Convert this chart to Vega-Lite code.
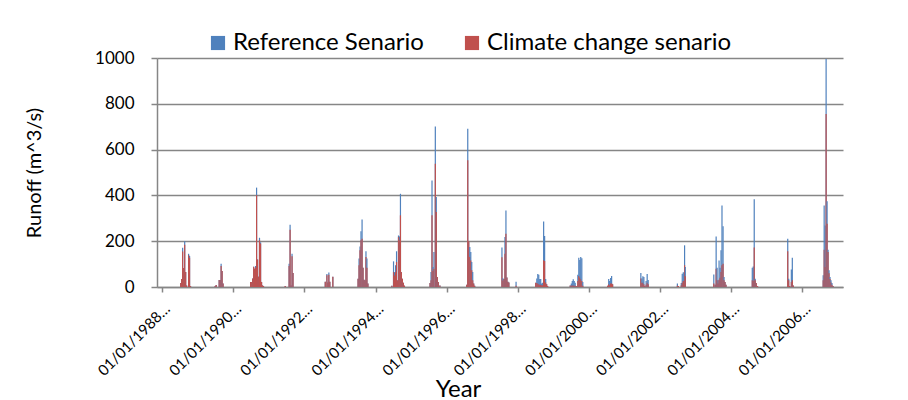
{
  "$schema": "https://vega.github.io/schema/vega-lite/v6.json",
  "width": 686,
  "height": 229,
  "autosize": {"type": "none"},
  "padding": {"left": 157, "top": 58, "right": 65, "bottom": 113},
  "background": "white",
  "config": {
    "font": "Lato",
    "view": {"stroke": null},
    "axis": {"labelColor": "#000000", "titleColor": "#000000", "titleFontWeight": "normal", "domainColor": "#868686", "domainWidth": 1.5, "tickColor": "#868686", "tickWidth": 1.5}
  },
  "data": {"values": [
    {"date": "1988-07-11", "ref": 17, "cc": 17},
    {"date": "1988-07-21", "ref": 35, "cc": 35},
    {"date": "1988-07-31", "ref": 171, "cc": 155},
    {"date": "1988-08-11", "ref": 83, "cc": 83},
    {"date": "1988-08-21", "ref": 200, "cc": 185},
    {"date": "1988-08-31", "ref": 66, "cc": 66},
    {"date": "1988-09-10", "ref": 7, "cc": 7},
    {"date": "1988-09-30", "ref": 145, "cc": 139},
    {"date": "1988-10-10", "ref": 136, "cc": 128},
    {"date": "1988-10-20", "ref": 4, "cc": 4},
    {"date": "1989-06-30", "ref": 4, "cc": 4},
    {"date": "1989-07-10", "ref": 9, "cc": 9},
    {"date": "1989-08-10", "ref": 31, "cc": 31},
    {"date": "1989-08-20", "ref": 31, "cc": 31},
    {"date": "1989-08-30", "ref": 101, "cc": 92},
    {"date": "1989-09-09", "ref": 70, "cc": 70},
    {"date": "1989-09-19", "ref": 15, "cc": 15},
    {"date": "1990-06-29", "ref": 22, "cc": 22},
    {"date": "1990-07-10", "ref": 22, "cc": 22},
    {"date": "1990-07-20", "ref": 37, "cc": 37},
    {"date": "1990-07-30", "ref": 88, "cc": 88},
    {"date": "1990-08-09", "ref": 80, "cc": 80},
    {"date": "1990-08-19", "ref": 92, "cc": 85},
    {"date": "1990-08-29", "ref": 434, "cc": 401},
    {"date": "1990-09-08", "ref": 120, "cc": 120},
    {"date": "1990-09-18", "ref": 45, "cc": 45},
    {"date": "1990-09-28", "ref": 215, "cc": 204},
    {"date": "1990-10-09", "ref": 195, "cc": 190},
    {"date": "1990-10-19", "ref": 22, "cc": 22},
    {"date": "1990-10-29", "ref": 7, "cc": 7},
    {"date": "1990-11-08", "ref": 4, "cc": 4},
    {"date": "1991-06-19", "ref": 4, "cc": 4},
    {"date": "1991-07-29", "ref": 101, "cc": 92},
    {"date": "1991-08-08", "ref": 272, "cc": 250},
    {"date": "1991-08-18", "ref": 7, "cc": 7},
    {"date": "1991-08-28", "ref": 145, "cc": 134},
    {"date": "1991-09-07", "ref": 61, "cc": 61},
    {"date": "1992-08-03", "ref": 23, "cc": 23},
    {"date": "1992-08-20", "ref": 57, "cc": 51},
    {"date": "1992-08-30", "ref": 20, "cc": 20},
    {"date": "1992-09-09", "ref": 63, "cc": 54},
    {"date": "1992-09-19", "ref": 23, "cc": 23},
    {"date": "1992-10-20", "ref": 45, "cc": 45},
    {"date": "1993-07-06", "ref": 36, "cc": 36},
    {"date": "1993-07-16", "ref": 124, "cc": 95},
    {"date": "1993-07-26", "ref": 177, "cc": 160},
    {"date": "1993-08-05", "ref": 243, "cc": 204},
    {"date": "1993-08-16", "ref": 295, "cc": 211},
    {"date": "1993-08-26", "ref": 84, "cc": 84},
    {"date": "1993-09-05", "ref": 32, "cc": 32},
    {"date": "1993-09-15", "ref": 29, "cc": 29},
    {"date": "1993-09-25", "ref": 156, "cc": 131},
    {"date": "1993-10-05", "ref": 124, "cc": 84},
    {"date": "1993-10-15", "ref": 15, "cc": 15},
    {"date": "1994-06-18", "ref": 6, "cc": 6},
    {"date": "1994-07-05", "ref": 112, "cc": 65},
    {"date": "1994-07-15", "ref": 65, "cc": 50},
    {"date": "1994-07-26", "ref": 95, "cc": 65},
    {"date": "1994-08-05", "ref": 156, "cc": 109},
    {"date": "1994-08-15", "ref": 29, "cc": 29},
    {"date": "1994-08-25", "ref": 225, "cc": 218},
    {"date": "1994-09-04", "ref": 221, "cc": 204},
    {"date": "1994-09-14", "ref": 407, "cc": 313},
    {"date": "1994-09-24", "ref": 65, "cc": 65},
    {"date": "1994-10-04", "ref": 36, "cc": 36},
    {"date": "1994-10-14", "ref": 19, "cc": 19},
    {"date": "1994-10-25", "ref": 6, "cc": 6},
    {"date": "1995-07-15", "ref": 17, "cc": 17},
    {"date": "1995-07-25", "ref": 65, "cc": 29},
    {"date": "1995-08-04", "ref": 465, "cc": 313},
    {"date": "1995-08-14", "ref": 87, "cc": 70},
    {"date": "1995-08-24", "ref": 153, "cc": 80},
    {"date": "1995-09-07", "ref": 701, "cc": 538},
    {"date": "1995-09-17", "ref": 393, "cc": 327},
    {"date": "1995-09-27", "ref": 44, "cc": 44},
    {"date": "1995-10-07", "ref": 22, "cc": 22},
    {"date": "1995-10-24", "ref": 7, "cc": 7},
    {"date": "1996-07-26", "ref": 10, "cc": 10},
    {"date": "1996-08-05", "ref": 691, "cc": 553},
    {"date": "1996-08-15", "ref": 195, "cc": 200},
    {"date": "1996-08-26", "ref": 175, "cc": 131},
    {"date": "1996-09-05", "ref": 153, "cc": 116},
    {"date": "1996-09-15", "ref": 109, "cc": 73},
    {"date": "1996-09-25", "ref": 65, "cc": 29},
    {"date": "1996-10-05", "ref": 15, "cc": 15},
    {"date": "1996-10-15", "ref": 6, "cc": 6},
    {"date": "1997-07-22", "ref": 172, "cc": 130},
    {"date": "1997-08-01", "ref": 38, "cc": 28},
    {"date": "1997-08-12", "ref": 35, "cc": 35},
    {"date": "1997-08-22", "ref": 218, "cc": 145},
    {"date": "1997-09-01", "ref": 334, "cc": 232},
    {"date": "1997-09-11", "ref": 42, "cc": 42},
    {"date": "1997-09-21", "ref": 23, "cc": 23},
    {"date": "1997-10-01", "ref": 20, "cc": 20},
    {"date": "1997-12-14", "ref": 23, "cc": 6},
    {"date": "1998-07-04", "ref": 19, "cc": 19},
    {"date": "1998-07-15", "ref": 37, "cc": 18},
    {"date": "1998-07-25", "ref": 57, "cc": 15},
    {"date": "1998-08-04", "ref": 53, "cc": 12},
    {"date": "1998-08-14", "ref": 35, "cc": 10},
    {"date": "1998-08-24", "ref": 35, "cc": 10},
    {"date": "1998-09-03", "ref": 15, "cc": 8},
    {"date": "1998-09-13", "ref": 19, "cc": 8},
    {"date": "1998-09-23", "ref": 286, "cc": 117},
    {"date": "1998-10-03", "ref": 223, "cc": 114},
    {"date": "1998-10-14", "ref": 35, "cc": 20},
    {"date": "1998-10-24", "ref": 12, "cc": 12},
    {"date": "1998-11-03", "ref": 4, "cc": 4},
    {"date": "1999-06-23", "ref": 7, "cc": 7},
    {"date": "1999-07-04", "ref": 15, "cc": 5},
    {"date": "1999-07-14", "ref": 26, "cc": 7},
    {"date": "1999-07-24", "ref": 34, "cc": 7},
    {"date": "1999-08-03", "ref": 26, "cc": 5},
    {"date": "1999-08-13", "ref": 19, "cc": 5},
    {"date": "1999-08-23", "ref": 4, "cc": 4},
    {"date": "1999-09-09", "ref": 53, "cc": 26},
    {"date": "1999-09-19", "ref": 128, "cc": 48},
    {"date": "1999-09-29", "ref": 118, "cc": 41},
    {"date": "1999-10-09", "ref": 131, "cc": 34},
    {"date": "1999-10-20", "ref": 126, "cc": 26},
    {"date": "1999-10-30", "ref": 22, "cc": 5},
    {"date": "2000-07-12", "ref": 6, "cc": 6},
    {"date": "2000-07-22", "ref": 35, "cc": 12},
    {"date": "2000-08-01", "ref": 26, "cc": 8},
    {"date": "2000-08-11", "ref": 39, "cc": 15},
    {"date": "2000-08-21", "ref": 48, "cc": 15},
    {"date": "2000-08-31", "ref": 12, "cc": 12},
    {"date": "2001-06-17", "ref": 61, "cc": 37},
    {"date": "2001-06-28", "ref": 37, "cc": 19},
    {"date": "2001-07-08", "ref": 47, "cc": 19},
    {"date": "2001-07-18", "ref": 44, "cc": 12},
    {"date": "2001-07-28", "ref": 4, "cc": 4},
    {"date": "2001-08-10", "ref": 26, "cc": 10},
    {"date": "2001-08-21", "ref": 57, "cc": 19},
    {"date": "2001-08-31", "ref": 31, "cc": 12},
    {"date": "2002-06-27", "ref": 15, "cc": 5},
    {"date": "2002-07-07", "ref": 4, "cc": 4},
    {"date": "2002-08-06", "ref": 17, "cc": 8},
    {"date": "2002-08-16", "ref": 58, "cc": 19},
    {"date": "2002-08-27", "ref": 64, "cc": 26},
    {"date": "2002-09-09", "ref": 182, "cc": 95},
    {"date": "2002-09-16", "ref": 87, "cc": 47},
    {"date": "2003-07-06", "ref": 55, "cc": 15},
    {"date": "2003-07-20", "ref": 10, "cc": 10},
    {"date": "2003-07-30", "ref": 221, "cc": 80},
    {"date": "2003-08-09", "ref": 84, "cc": 29},
    {"date": "2003-08-19", "ref": 29, "cc": 15},
    {"date": "2003-08-29", "ref": 116, "cc": 32},
    {"date": "2003-09-08", "ref": 84, "cc": 40},
    {"date": "2003-09-18", "ref": 160, "cc": 65},
    {"date": "2003-09-28", "ref": 356, "cc": 95},
    {"date": "2003-10-09", "ref": 265, "cc": 102},
    {"date": "2003-10-19", "ref": 44, "cc": 30},
    {"date": "2003-10-29", "ref": 22, "cc": 22},
    {"date": "2003-11-08", "ref": 10, "cc": 10},
    {"date": "2004-08-04", "ref": 84, "cc": 29},
    {"date": "2004-08-14", "ref": 90, "cc": 26},
    {"date": "2004-08-24", "ref": 383, "cc": 172},
    {"date": "2004-09-03", "ref": 36, "cc": 30},
    {"date": "2004-09-13", "ref": 17, "cc": 17},
    {"date": "2004-09-27", "ref": 4, "cc": 4},
    {"date": "2005-08-03", "ref": 211, "cc": 156},
    {"date": "2005-08-13", "ref": 36, "cc": 30},
    {"date": "2005-08-23", "ref": 4, "cc": 4},
    {"date": "2005-09-09", "ref": 76, "cc": 22},
    {"date": "2005-09-19", "ref": 128, "cc": 29},
    {"date": "2005-09-29", "ref": 7, "cc": 7},
    {"date": "2006-08-02", "ref": 51, "cc": 30},
    {"date": "2006-08-12", "ref": 356, "cc": 163},
    {"date": "2006-08-22", "ref": 269, "cc": 87},
    {"date": "2006-09-01", "ref": 996, "cc": 756},
    {"date": "2006-09-11", "ref": 375, "cc": 276},
    {"date": "2006-09-21", "ref": 163, "cc": 153},
    {"date": "2006-10-01", "ref": 73, "cc": 60},
    {"date": "2006-10-11", "ref": 44, "cc": 35},
    {"date": "2006-10-21", "ref": 29, "cc": 20},
    {"date": "2006-10-31", "ref": 17, "cc": 10},
    {"date": "2006-11-11", "ref": 4, "cc": 4}
  ]},
  "transform": [{"fold": ["ref", "cc"], "as": ["series", "value"]}],
  "mark": {"type": "bar", "size": 1.2},
  "encoding": {
    "x": {
      "field": "date",
      "type": "temporal",
      "scale": {"type": "utc", "domain": [{"year": 1988, "month": 1, "date": 1, "utc": true}, {"year": 2007, "month": 1, "date": 1, "utc": true}], "nice": false},
      "axis": {
        "values": [
          {"year": 1988, "month": 1, "date": 1, "utc": true},
          {"year": 1990, "month": 1, "date": 1, "utc": true},
          {"year": 1992, "month": 1, "date": 1, "utc": true},
          {"year": 1994, "month": 1, "date": 1, "utc": true},
          {"year": 1996, "month": 1, "date": 1, "utc": true},
          {"year": 1998, "month": 1, "date": 1, "utc": true},
          {"year": 2000, "month": 1, "date": 1, "utc": true},
          {"year": 2002, "month": 1, "date": 1, "utc": true},
          {"year": 2004, "month": 1, "date": 1, "utc": true},
          {"year": 2006, "month": 1, "date": 1, "utc": true}
        ],
        "labelExpr": "utcFormat(datum.value, '%d/%m/%Y') + '…'",
        "labelAngle": -45,
        "labelAlign": "right",
        "labelBaseline": "top",
        "labelFontSize": 15,
        "labelPadding": 9,
        "labelDx": 6,
        "labelOverlap": false,
        "labelFlush": false,
        "tickSize": 5,
        "grid": false,
        "title": "Year",
        "titleFontSize": 24,
        "titleX": 301,
        "titleY": 109,
        "titleBaseline": "alphabetic",
        "titleAnchor": "middle"
      }
    },
    "y": {
      "field": "value",
      "type": "quantitative",
      "stack": null,
      "scale": {"domain": [0, 1000], "nice": false},
      "axis": {
        "values": [0, 200, 400, 600, 800, 1000],
        "format": "d",
        "grid": true,
        "gridColor": "#868686",
        "gridWidth": 1.4,
        "tickSize": 6,
        "labelFontSize": 17,
        "labelPadding": 17,
        "title": "Runoff (m^3/s)",
        "titleFontSize": 20,
        "titleX": -123,
        "titleY": 114.5,
        "titleAngle": -90,
        "titleAlign": "center",
        "titleBaseline": "middle"
      }
    },
    "color": {
      "field": "series",
      "type": "nominal",
      "scale": {"domain": ["ref", "cc"], "range": ["#4F81BD", "#C0504D"]},
      "legend": {
        "title": null,
        "orient": "none",
        "legendX": 49,
        "legendY": -27,
        "direction": "horizontal",
        "symbolType": "square",
        "symbolSize": 200,
        "symbolStrokeWidth": 0,
        "symbolOpacity": 1,
        "labelFontSize": 24,
        "labelColor": "#000000",
        "labelOffset": 3,
        "columnPadding": 36,
        "labelLimit": 400,
        "labelExpr": "datum.label == 'ref' ? 'Reference Senario' : 'Climate change senario'"
      }
    }
  }
}
